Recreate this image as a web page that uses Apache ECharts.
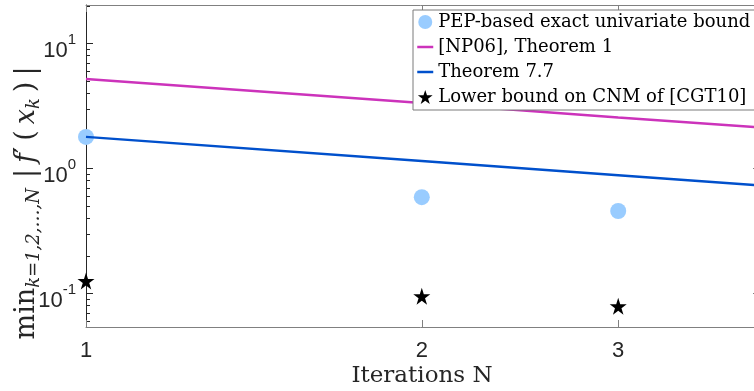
<!DOCTYPE html>
<html><head><meta charset="utf-8">
<script src="https://cdn.jsdelivr.net/npm/echarts@6/dist/echarts.min.js"></script>
<style>html,body{margin:0;padding:0;background:#fff}#c{width:754px;height:391px}</style>
</head><body><div id="c"></div>
<script>
const iterations = [1, 2, 3, 4];
const pepIterations = [1, 2, 3];
const pepBound = [1.79, 0.59, 0.457];
const np06Bound = [5.2, 3.34, 2.56, 2.14];
const thm77Bound = [1.79, 1.15, 0.884, 0.735];
const cgt10Lower = [0.126, 0.095, 0.079];
const xTickValues = [1, 2, 3];
const yMajorTicks = [0.1, 1, 10];
const yMinorTicks = [0.06,0.07,0.08,0.09,0.2,0.3,0.4,0.5,0.6,0.7,0.8,0.9,2,3,4,5,6,7,8,9,20];
const legendNames = ['PEP-based exact univariate bound', '[NP06], Theorem 1', 'Theorem 7.7', 'Lower bound on CNM of [CGT10]'];

const STAR = 'path://M50 0 L61.23 34.55 L97.55 34.55 L68.17 55.9 L79.39 90.45 L50 69.1 L20.61 90.45 L31.83 55.9 L2.45 34.55 L38.77 34.55 Z';
const X_MIN = 1, X_MAX = 4.02, Y_MIN = 0.054, Y_MAX = 20.3;
const dark = '#262626', gray = '#808080';
const sans = 'Liberation Sans', serif = 'DejaVu Serif';

function zip(xs, ys) { return xs.map((x, i) => [x, ys[i]]); }

const chart = echarts.init(document.getElementById('c'), null, {renderer: 'canvas'});

function yAx(extra) {
  return Object.assign({
    type: 'log', logBase: 10, min: Y_MIN, max: Y_MAX,
    splitLine: {show: false}, axisLabel: {show: false},
    axisLine: {show: false}, axisTick: {show: false}
  }, extra);
}
function xAx(extra) {
  return Object.assign({
    type: 'log', logBase: 10, min: X_MIN, max: X_MAX,
    splitLine: {show: false}, axisLabel: {show: false},
    axisLine: {show: false}, axisTick: {show: false}
  }, extra);
}

const clear = 'rgba(0,0,0,0)';

chart.setOption({
  animation: false,
  backgroundColor: '#fff',
  grid: {left: 86, right: -6, top: 5, bottom: 64, containLabel: false, outerBoundsMode: 'none'},
  xAxis: [
    xAx({position: 'bottom',
      axisLine: {show: true, onZero: false, lineStyle: {color: gray, width: 1}},
      axisTick: {show: true, inside: true, length: 7, customValues: xTickValues, lineStyle: {color: gray}},
      axisLabel: {show: true, customValues: xTickValues, margin: 13, color: dark, fontFamily: sans, fontSize: 22}
    }),
    xAx({position: 'top',
      axisLine: {show: true, onZero: false, lineStyle: {color: gray, width: 1}},
      axisTick: {show: true, inside: true, length: 7, customValues: xTickValues, lineStyle: {color: gray}}
    })
  ],
  yAxis: [
    yAx({position: 'left',
      axisLine: {show: true, onZero: false, lineStyle: {color: dark, width: 1}},
      axisTick: {show: true, inside: true, length: 7, customValues: yMajorTicks, lineStyle: {color: dark}},
      axisLabel: {show: true, customValues: yMajorTicks, margin: 10, color: dark,
        formatter: function (v) { return '{b|10}{s|' + Math.round(Math.log10(v)) + '}'; },
        rich: {
          b: {fontFamily: sans, fontSize: 22, color: dark, lineHeight: 22, padding: [14, 0, 0, 0]},
          s: {fontFamily: sans, fontSize: 15, color: dark, lineHeight: 16, verticalAlign: 'top'}
        }
      }
    }),
    yAx({position: 'left',
      axisTick: {show: true, inside: true, length: 4, customValues: yMinorTicks, lineStyle: {color: dark}}
    }),
    yAx({position: 'right',
      axisLine: {show: true, onZero: false, lineStyle: {color: gray, width: 1}},
      axisTick: {show: true, inside: true, length: 7, customValues: yMajorTicks, lineStyle: {color: gray}}
    }),
    yAx({position: 'right',
      axisTick: {show: true, inside: true, length: 4, customValues: yMinorTicks, lineStyle: {color: gray}}
    })
  ],
  legend: {
    orient: 'vertical', left: 413, top: 10,
    data: legendNames,
    backgroundColor: '#fff', borderColor: '#7a7a7a', borderWidth: 1,
    padding: [2, 30, 3, 3], itemGap: 5, itemWidth: 16, itemHeight: 14,
    lineStyle: {width: 2.5},
    textStyle: {fontFamily: serif, fontSize: 18, color: '#000', lineHeight: 20},
    z: 10
  },
  graphic: [
    {type: 'text', x: 27, y: 203, rotation: Math.PI / 2,
      style: {
        text: '{m|min}{s|k=1,2,…,N}{g|}{m||}{p|}{i|f}{m|′}{p|}{m|(}{p|}{i|x}{si|k}{p|}{m|)}{p|}{m||}',
        align: 'center', verticalAlign: 'middle',
        rich: {
          m: {fontFamily: serif, fontSize: 27, lineHeight: 32, fill: dark},
          i: {fontFamily: serif, fontStyle: 'italic', fontSize: 27, lineHeight: 32, fill: dark},
          s: {fontFamily: serif, fontStyle: 'italic', fontSize: 18, lineHeight: 18, verticalAlign: 'bottom', fill: dark},
          si: {fontFamily: serif, fontStyle: 'italic', fontSize: 18, lineHeight: 18, verticalAlign: 'bottom', fill: dark},
          g: {width: 10, lineHeight: 32},
          p: {width: 6, lineHeight: 32}
        }
      }
    },
    {type: 'text', x: 422, y: 376,
      style: {text: 'Iterations N', fontFamily: serif, fontSize: 23, fill: dark, align: 'center', verticalAlign: 'middle'}
    }
  ],
  series: [
    {name: legendNames[0], type: 'scatter', data: zip(pepIterations, pepBound),
      symbol: 'circle', symbolSize: 16, itemStyle: {color: '#99ccff', opacity: 1}},
    {name: legendNames[1], type: 'line', data: zip(iterations, np06Bound),
      symbol: 'none', lineStyle: {color: '#cc33bb', width: 2.5}, itemStyle: {color: clear}},
    {name: legendNames[2], type: 'line', data: zip(iterations, thm77Bound),
      symbol: 'none', lineStyle: {color: '#0050cc', width: 2.5}, itemStyle: {color: clear}},
    {name: legendNames[3], type: 'scatter', data: zip(pepIterations, cgt10Lower),
      symbol: STAR, symbolSize: 17, itemStyle: {color: '#000', opacity: 1}}
  ]
});
</script>
</body></html>
